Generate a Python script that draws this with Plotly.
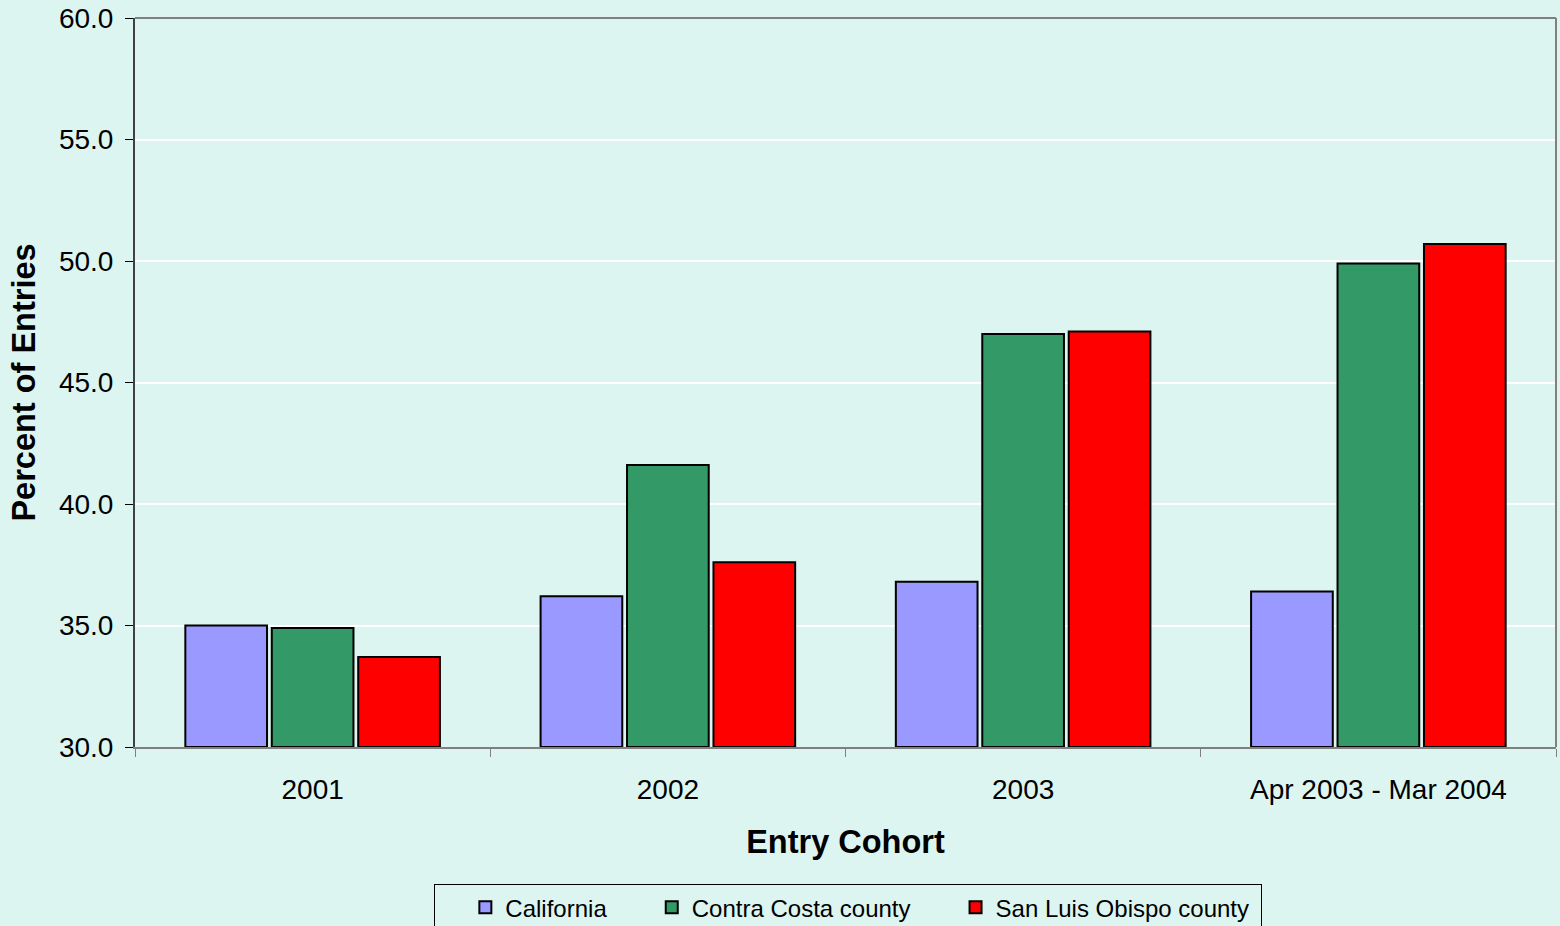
import plotly.graph_objects as go

categories = ["2001", "2002", "2003", "Apr 2003 - Mar 2004"]
california = [35.0, 36.2, 36.8, 36.4]
contra_costa = [34.9, 41.6, 47.0, 49.9]
san_luis_obispo = [33.7, 37.6, 47.1, 50.7]

NB = "\u00a0"
series = [
    ("California", california, "#9999FF", NB * 6),
    ("Contra Costa county", contra_costa, "#339966", NB * 6),
    ("San Luis Obispo county", san_luis_obispo, "#FF0000", NB * 1),
]

BG = "#DDF5F0"
FONT = "Arial, Liberation Sans, sans-serif"
BASE = 30

fig = go.Figure()
for name, vals, color, pad in series:
    fig.add_trace(go.Bar(
        x=categories, y=[v - BASE for v in vals], base=BASE, name=name + pad,
        customdata=vals,
        hovertemplate="%{x}: %{customdata:.1f}<extra>" + name + "</extra>",
        marker=dict(color=color, line=dict(color="black", width=2)),
    ))

fig.update_layout(
    width=1560, height=926,
    paper_bgcolor=BG, plot_bgcolor=BG,
    margin=dict(l=135, r=4, t=18, b=179, autoexpand=False),
    barmode="group", bargap=0.27, bargroupgap=0.055,
    font=dict(family=FONT, color="black"),
    showlegend=True,
    legend=dict(
        orientation="h", x=0.502, xanchor="center", y=-0.188, yanchor="top",
        font=dict(size=24, family=FONT, color="black"),
        bordercolor="black", borderwidth=1, bgcolor=BG,
        traceorder="normal",
        title=dict(text=NB * 3, side="left", font=dict(size=24)),
    ),
    xaxis=dict(
        type="category", tickson="boundaries",
        ticks="outside", ticklen=8, tickcolor="#808080",
        showline=True, linecolor="#808080", linewidth=2,
        tickfont=dict(size=28, family=FONT),
        ticklabelstandoff=16,
        title=dict(text="<b>Entry Cohort</b>", font=dict(size=32.5, family=FONT), standoff=27),
        showgrid=False,
    ),
    yaxis=dict(
        range=[30, 60], dtick=5, tick0=30, tickformat=".1f",
        ticks="outside", ticklen=8, tickcolor="black",
        showline=True, linecolor="#404040", linewidth=2,
        gridcolor="white", gridwidth=1.5,
        tickfont=dict(size=28, family=FONT),
        ticklabelstandoff=6,
        title=dict(text="<b>Percent of Entries</b>", font=dict(size=32.5, family=FONT), standoff=14),
        zeroline=False,
    ),
)
fig.add_shape(type="line", xref="paper", yref="paper", x0=0, x1=1, y0=1, y1=1,
              line=dict(color="#808080", width=2))
fig.add_shape(type="line", xref="paper", yref="paper", x0=1, x1=1, y0=0, y1=1,
              line=dict(color="#808080", width=2))

fig.write_html("out.html", config={"displayModeBar": False},
               post_script="document.body.style.margin='0';document.body.style.overflow='hidden';")
